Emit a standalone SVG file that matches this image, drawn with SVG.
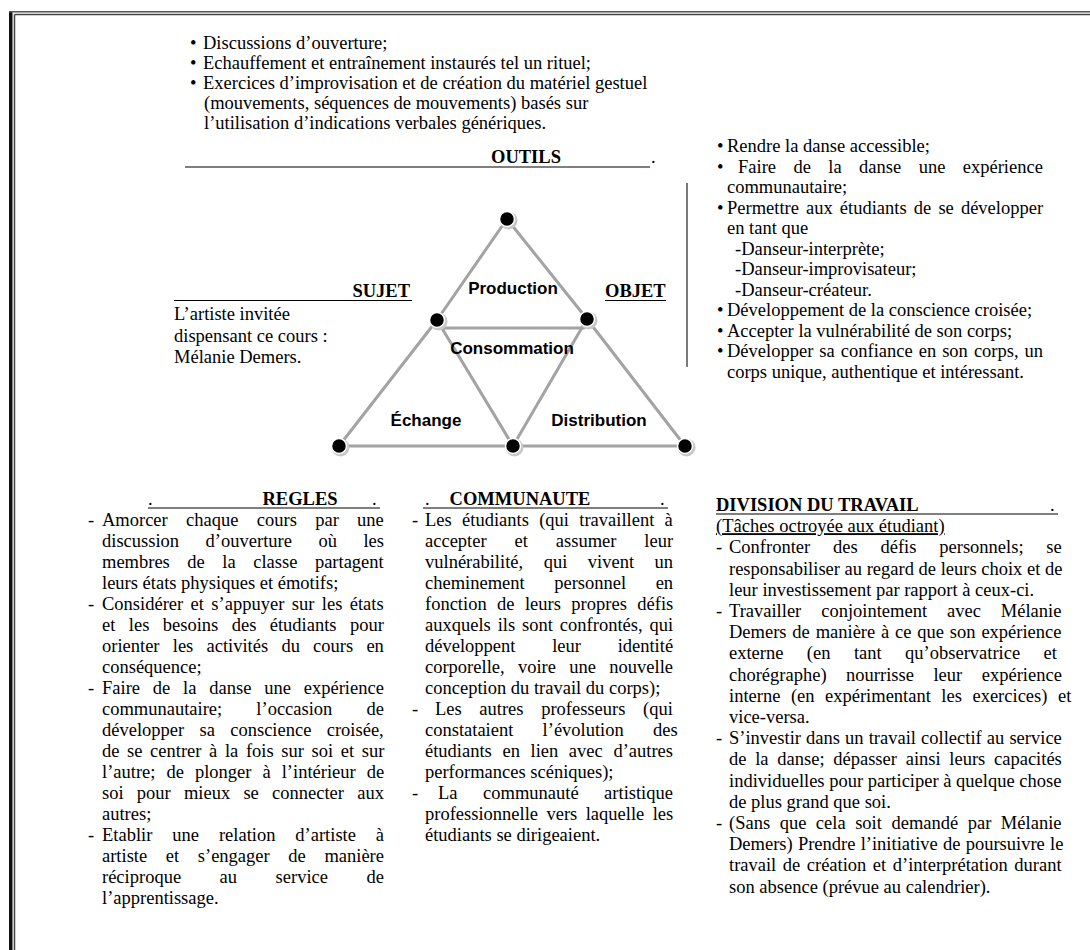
<svg xmlns="http://www.w3.org/2000/svg" width="1090" height="950" viewBox="0 0 1090 950">
<style>
.t{font-family:"Liberation Serif","Times New Roman",serif;font-size:18.5px;fill:#000}
.b{font-weight:bold}
.m{text-anchor:middle}
.e{text-anchor:end}
.s{font-family:"Liberation Sans",Arial,sans-serif;font-size:17px;font-weight:bold;fill:#000;text-anchor:middle}
.ul{stroke:#000;stroke-width:1.2}
.edge{stroke:#a3a3a3;stroke-width:3;stroke-linecap:round;fill:none}
.dot{fill:#000;stroke:#fff;stroke-width:1.5}
.halo{fill:#c8c8c8}
</style>
<rect width="1090" height="950" fill="#fff"/>
<g id="frame">
<rect x="9" y="11" width="3.5" height="939" fill="#111"/>
<line x1="9" y1="11.75" x2="1090" y2="11.75" stroke="#555" stroke-width="1.5"/>
<line x1="14.5" y1="14.5" x2="1090" y2="14.5" stroke="#444" stroke-width="1.5"/>
<line x1="14.5" y1="14.5" x2="14.5" y2="950" stroke="#444" stroke-width="1.5"/>
</g>

<g id="outils">
<text class="t" x="190" y="49">•</text><text class="t" x="203" y="49">Discussions d’ouverture;</text>
<text class="t" x="190" y="69">•</text><text class="t" x="203" y="69">Echauffement et entraînement instaurés tel un rituel;</text>
<text class="t" x="190" y="89">•</text><text class="t" x="203" y="89">Exercices d’improvisation et de création du matériel gestuel</text>
<text class="t" x="204" y="109">(mouvements, séquences de mouvements) basés sur</text>
<text class="t" x="204" y="129">l’utilisation d’indications verbales génériques.</text>
<line class="ul" x1="185" y1="167" x2="650" y2="167"/>
<text class="t b m" x="526" y="163">OUTILS</text>
<text class="t" x="651" y="163">.</text>
</g>

<g id="objet-list">
<line x1="687" y1="183" x2="687" y2="367" stroke="#333" stroke-width="1.3"/>
<text class="t" x="717" y="152">•</text><text class="t" x="727" y="152">Rendre la danse accessible;</text>
<text class="t" x="717" y="172.5">•</text><text class="t" x="738" y="172.5" word-spacing="12.8">Faire de la danse une expérience</text>
<text class="t" x="727" y="193">communautaire;</text>
<text class="t" x="717" y="213.5">•</text><text class="t" x="727" y="213.5" word-spacing="2.5">Permettre aux étudiants de se développer</text>
<text class="t" x="727" y="234">en tant que</text>
<text class="t" x="735" y="254.5">-Danseur-interprète;</text>
<text class="t" x="735" y="275">-Danseur-improvisateur;</text>
<text class="t" x="735" y="295.5">-Danseur-créateur.</text>
<text class="t" x="717" y="316">•</text><text class="t" x="727" y="316">Développement de la conscience croisée;</text>
<text class="t" x="717" y="336.5">•</text><text class="t" x="727" y="336.5">Accepter la vulnérabilité de son corps;</text>
<text class="t" x="717" y="357">•</text><text class="t" x="727" y="357" word-spacing="1.4">Développer sa confiance en son corps, un</text>
<text class="t" x="727" y="377.5">corps unique, authentique et intéressant.</text>
</g>

<g id="sujet">
<line class="ul" x1="174" y1="300.5" x2="412" y2="300.5"/>
<text class="t b e" x="410" y="297">SUJET</text>
<text class="t" x="174" y="320">L’artiste invitée</text>
<text class="t" x="174" y="341.5">dispensant ce cours :</text>
<text class="t" x="174" y="363">Mélanie Demers.</text>
</g>

<g id="objet">
<text class="t b" x="605" y="297">OBJET</text>
<line class="ul" x1="605" y1="300.5" x2="666" y2="300.5"/>
</g>

<g id="connectors">
<line class="edge" x1="507" y1="219" x2="437" y2="320"/>
<line class="edge" x1="507" y1="219" x2="587" y2="319"/>
<line class="edge" x1="441" y1="328" x2="584" y2="328"/>
<line class="edge" x1="437" y1="320" x2="339" y2="446"/>
<line class="edge" x1="437" y1="320" x2="513" y2="446"/>
<line class="edge" x1="587" y1="319" x2="513" y2="446"/>
<line class="edge" x1="587" y1="319" x2="685" y2="446"/>
<line class="edge" x1="339" y1="446" x2="685" y2="446"/>
</g>

<g id="node-top"><circle class="halo" cx="508.5" cy="220.5" r="9"/><circle class="dot" cx="507" cy="219" r="7.5"/></g>
<g id="node-left-mid"><circle class="halo" cx="438.5" cy="321.5" r="9"/><circle class="dot" cx="437" cy="320" r="7.5"/></g>
<g id="node-right-mid"><circle class="halo" cx="588.5" cy="320.5" r="9"/><circle class="dot" cx="587" cy="319" r="7.5"/></g>
<g id="node-bottom-left"><circle class="halo" cx="340.5" cy="447.5" r="9"/><circle class="dot" cx="339" cy="446" r="7.5"/></g>
<g id="node-bottom-mid"><circle class="halo" cx="514.5" cy="447.5" r="9"/><circle class="dot" cx="513" cy="446" r="7.5"/></g>
<g id="node-bottom-right"><circle class="halo" cx="686.5" cy="447.5" r="9"/><circle class="dot" cx="685" cy="446" r="7.5"/></g>

<g id="labels">
<text class="s" x="513" y="294">Production</text>
<text class="s" x="512" y="354">Consommation</text>
<text class="s" x="426" y="426">Échange</text>
<text class="s" x="599" y="426">Distribution</text>
</g>

<g id="regles">
<line class="ul" x1="148" y1="508" x2="380" y2="508"/>
<text class="t" x="148" y="505">.</text>
<text class="t b m" x="300" y="505">REGLES</text>
<text class="t" x="372" y="505">.</text>
<text class="t" x="88" y="526">-</text><text class="t" x="102" y="526" word-spacing="13.7">Amorcer chaque cours par une</text>
<text class="t" x="102" y="547" word-spacing="21.9">discussion d’ouverture où les</text>
<text class="t" x="102" y="568" word-spacing="12.9">membres de la classe partagent</text>
<text class="t" x="102" y="589">leurs états physiques et émotifs;</text>
<text class="t" x="88" y="610">-</text><text class="t" x="102" y="610" word-spacing="2.8">Considérer et s’appuyer sur les états</text>
<text class="t" x="102" y="631" word-spacing="8.8">et les besoins des étudiants pour</text>
<text class="t" x="102" y="652" word-spacing="8.6">orienter les activités du cours en</text>
<text class="t" x="102" y="673">conséquence;</text>
<text class="t" x="88" y="694">-</text><text class="t" x="102" y="694" word-spacing="8.2">Faire de la danse une expérience</text>
<text class="t" x="102" y="715" word-spacing="29.5">communautaire; l’occasion de</text>
<text class="t" x="102" y="736" word-spacing="10.7">développer sa conscience croisée,</text>
<text class="t" x="102" y="757" word-spacing="3">de se centrer à la fois sur soi et sur</text>
<text class="t" x="102" y="778" word-spacing="6.4">l’autre; de plonger à l’intérieur de</text>
<text class="t" x="102" y="799" word-spacing="8.6">soi pour mieux se connecter aux</text>
<text class="t" x="102" y="820">autres;</text>
<text class="t" x="88" y="841">-</text><text class="t" x="102" y="841" word-spacing="15.3">Etablir une relation d’artiste à</text>
<text class="t" x="102" y="862" word-spacing="14">artiste et s’engager de manière</text>
<text class="t" x="102" y="883" word-spacing="33.9">réciproque au service de</text>
<text class="t" x="102" y="904">l’apprentissage.</text>
</g>

<g id="communaute">
<line class="ul" x1="423" y1="508" x2="668" y2="508"/>
<text class="t" x="425" y="505">.</text>
<text class="t b m" x="520" y="505">COMMUNAUTE</text>
<text class="t" x="660" y="505">.</text>
<text class="t" x="412" y="526">-</text><text class="t" x="425" y="526" word-spacing="5.7">Les étudiants (qui travaillent à</text>
<text class="t" x="425" y="547" word-spacing="23.3">accepter et assumer leur</text>
<text class="t" x="425" y="568" word-spacing="15.9">vulnérabilité, qui vivent un</text>
<text class="t" x="425" y="589" word-spacing="24.9">cheminement personnel en</text>
<text class="t" x="425" y="610" word-spacing="5.8">fonction de leurs propres défis</text>
<text class="t" x="425" y="631" word-spacing="2.3">auxquels ils sont confrontés, qui</text>
<text class="t" x="425" y="652" word-spacing="32.1">développent leur identité</text>
<text class="t" x="425" y="673" word-spacing="8.7">corporelle, voire une nouvelle</text>
<text class="t" x="425" y="694">conception du travail du corps);</text>
<text class="t" x="412" y="715">-</text><text class="t" x="435" y="715" word-spacing="13">Les autres professeurs (qui</text>
<text class="t" x="425" y="736" word-spacing="24.6">constataient l’évolution des</text>
<text class="t" x="425" y="757" word-spacing="6">étudiants en lien avec d’autres</text>
<text class="t" x="425" y="778">performances scéniques);</text>
<text class="t" x="412" y="799">-</text><text class="t" x="438" y="799" word-spacing="20.9">La communauté artistique</text>
<text class="t" x="425" y="820" word-spacing="3.8">professionnelle vers laquelle les</text>
<text class="t" x="425" y="841">étudiants se dirigeaient.</text>
</g>

<g id="division">
<line class="ul" x1="716" y1="514" x2="1058" y2="514"/>
<text class="t b" x="716" y="511">DIVISION DU TRAVAIL</text>
<text class="t" x="1050" y="511">.</text>
<text class="t" x="716" y="532.2" text-decoration="underline">(Tâches octroyée aux étudiant)</text>
<text class="t" x="716" y="553.4">-</text><text class="t" x="729" y="553.4" word-spacing="18.2">Confronter des défis personnels; se</text>
<text class="t" x="729" y="574.6">responsabiliser au regard de leurs choix et de</text>
<text class="t" x="729" y="595.8">leur investissement par rapport à ceux-ci.</text>
<text class="t" x="716" y="617">-</text><text class="t" x="729" y="617" word-spacing="15.3">Travailler conjointement avec Mélanie</text>
<text class="t" x="729" y="638.2" word-spacing="1.2">Demers de manière à ce que son expérience</text>
<text class="t" x="729" y="659.4" word-spacing="18.8">externe (en tant qu’observatrice et</text>
<text class="t" x="729" y="680.6" word-spacing="14.9">chorégraphe) nourrisse leur expérience</text>
<text class="t" x="729" y="701.8" word-spacing="5.9">interne (en expérimentant les exercices) et</text>
<text class="t" x="729" y="723">vice-versa.</text>
<text class="t" x="716" y="744.2">-</text><text class="t" x="729" y="744.2" word-spacing="0.5">S’investir dans un travail collectif au service</text>
<text class="t" x="729" y="765.4" word-spacing="4.1">de la danse; dépasser ainsi leurs capacités</text>
<text class="t" x="729" y="786.6">individuelles pour participer à quelque chose</text>
<text class="t" x="729" y="807.8">de plus grand que soi.</text>
<text class="t" x="716" y="829">-</text><text class="t" x="729" y="829" word-spacing="4.9">(Sans que cela soit demandé par Mélanie</text>
<text class="t" x="729" y="850.2" word-spacing="0.6">Demers) Prendre l’initiative de poursuivre le</text>
<text class="t" x="729" y="871.4" word-spacing="1.9">travail de création et d’interprétation durant</text>
<text class="t" x="729" y="892.6">son absence (prévue au calendrier).</text>
</g>
</svg>
